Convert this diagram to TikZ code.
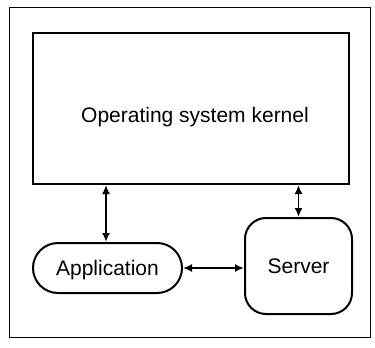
\documentclass[tikz,border=0pt]{standalone}
\usepackage{fontspec}
\setmainfont{Liberation Sans}
\usetikzlibrary{arrows.meta}
\begin{document}
\begin{tikzpicture}[x=1pt,y=-1pt,
  box/.style={draw,line width=2pt,inner sep=0pt},
  conn/.style={line width=1.7pt,{Latex[length=9pt,width=8pt]}-{Latex[length=9pt,width=8pt]}},
  lbl/.style={font=\fontsize{21}{24}\selectfont,text height=15pt,text depth=0pt}]
\useasboundingbox (0,0) rectangle (375,348);
\draw[line width=0.8pt] (9,7) rectangle (370,337);
\node[box,minimum width=316pt,minimum height=151pt] (kernel) at (191,108.5) {};
\node[lbl,inner sep=0pt] (ktext) at (195,114.5) {Operating system kernel};
\node[box,rounded corners=25pt,minimum width=149pt,minimum height=50pt,lbl] (app) at (107.5,268) {Application};
\node[box,rounded corners=21pt,minimum width=107pt,minimum height=96pt,lbl] (server) at (298.5,266) {Server};
\draw[conn] (kernel.south -| 106,0) -- (app.north -| 106,0);
\draw[conn] (kernel.south -| server.north) -- (server.north);
\draw[conn] (app.east) -- (server.west |- app.east);
\end{tikzpicture}
\end{document}
